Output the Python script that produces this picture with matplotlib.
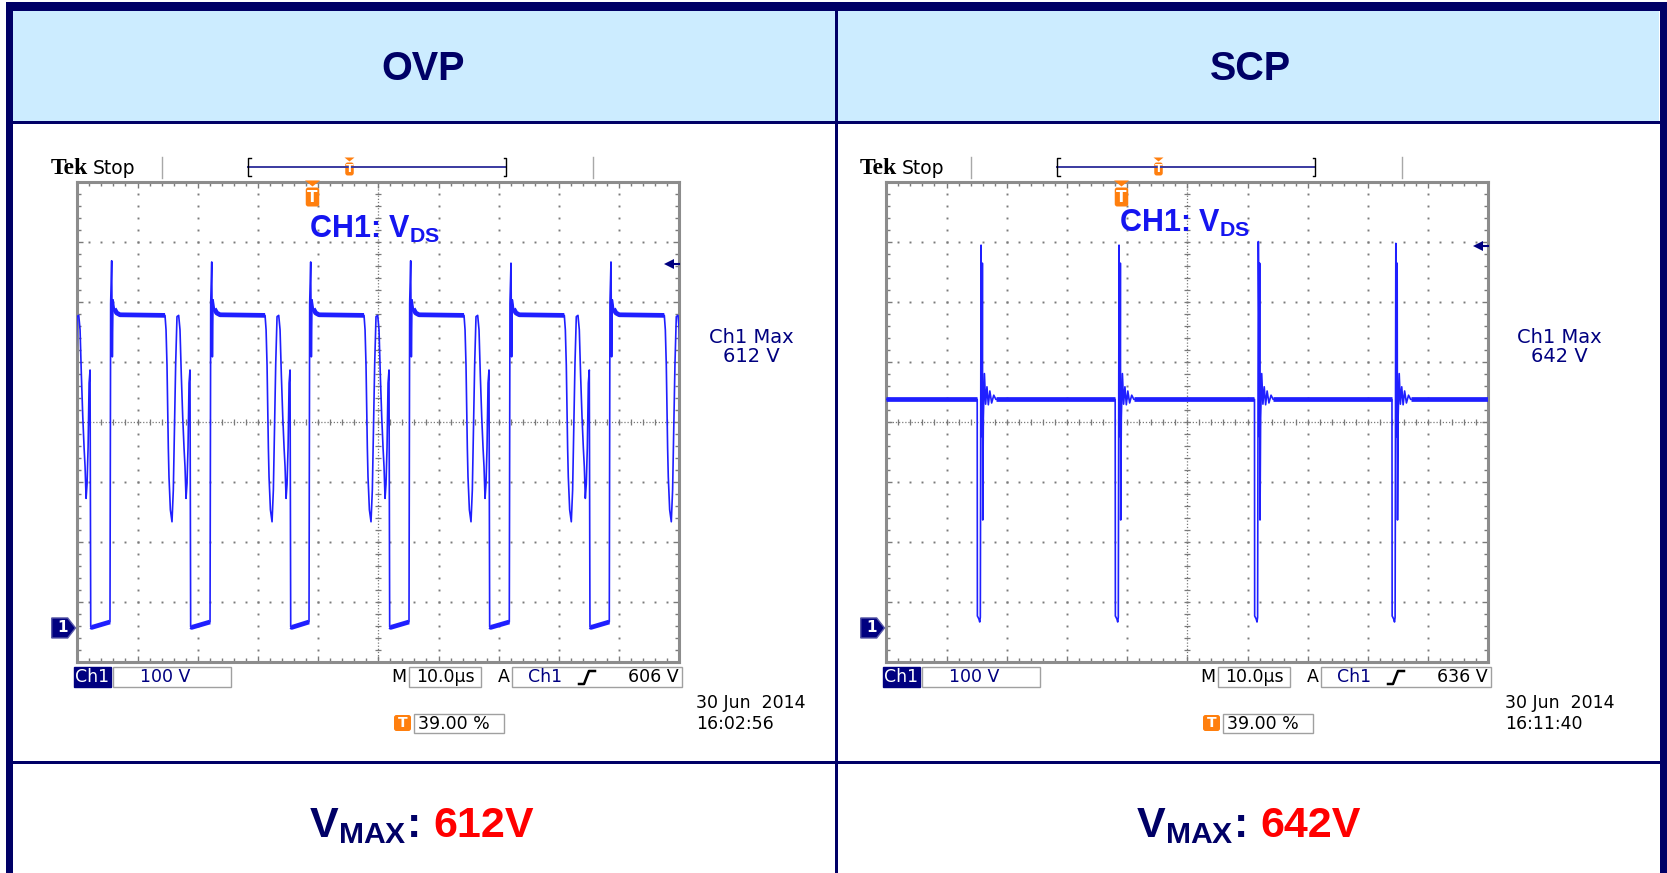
import numpy as np
import matplotlib.pyplot as plt
from matplotlib.patches import Rectangle, FancyBboxPatch, Polygon
from matplotlib.ticker import MultipleLocator, FixedLocator

plt.rcParams['mathtext.fontset'] = 'custom'
plt.rcParams['mathtext.rm'] = 'Liberation Sans'
plt.rcParams['mathtext.bf'] = 'Liberation Sans:bold'
plt.rcParams['mathtext.it'] = 'Liberation Sans:italic'

W, H = 1667, 873
DX = 809  # horizontal shift between the two scope shots (px)

# ---- data ----
titles = ['OVP', 'SCP']
vmax_vals = ['612V', '642V']
max_vals = ['612 V', '642 V']
trig_level = [606, 636]          # V, trigger level arrows
trig_text = ['606 V', '636 V']
date_line = ['30 Jun  2014', '30 Jun  2014']
time_line = ['16:02:56', '16:11:40']
volts_div = '100 V'
time_div = '10.0\u00b5s'
trig_pos = '39.00 %'

# OVP: one switching cycle, time relative to the turn-off spike (us) / volts
ovp_cycle_dt = [-0.28, -0.17, 0.0, 0.11, 0.22, 0.44, 0.83, 1.38, 8.86, 9.03,
                9.19, 9.41, 9.52, 9.75, 10.02, 10.24, 10.46, 10.63, 10.85, 11.13,
                11.35, 11.57, 11.80, 12.02, 12.18, 12.35, 12.51, 12.68, 12.85, 13.01,
                13.12, 13.30]
ovp_cycle_v = [10, 541, 612, 452, 547, 532, 525, 522, 521, 497,
               438, 300, 252, 197, 177, 230, 352, 440, 519, 521,
               497, 420, 352, 300, 269, 216, 240, 300, 408, 430,
               2, 1]
ovp_cycle_flat = [1, 0, 0, 0, 0, 1, 1, 1, 1, 0,
                  0, 0, 0, 0, 0, 0, 0, 0, 0, 0,
                  0, 0, 0, 0, 0, 0, 0, 0, 0, 0,
                  1, 1]
ovp_spike_t = [-10.89, 5.71, 22.33, 38.77, 55.38, 72.04, 88.65]
ovp_spike_v = [612, 612, 610, 610, 612, 608, 610]

# SCP: flat bus level with short hiccup pulses
scp_base_v = 381
scp_pulse_dt = [0.0, 0.03, 0.28, 0.42, 0.52, 0.64, 0.74, 0.80, 0.86, 0.92,
                1.02, 1.20, 1.40, 1.62, 1.85, 2.10, 2.40, 2.75, 3.10]
scp_pulse_v = [381, 20, 15, 10, 18, 638, 500, 319, 608, 180,
               350, 424, 373, 402, 372, 395, 375, 388, 381]
scp_pulse_flat = [1, 0, 0, 0, 0, 0, 0, 0, 0, 0,
                  0, 0, 0, 0, 0, 0, 0, 0, 1]
scp_fall_t = [15.10, 38.02, 61.16, 84.00]
scp_peak_v = [638, 638, 644, 641]

NAVY = '#000066'
SCOPE_NAVY = '#000080'
TRACE = '#1f1fff'
GRID = '#7a7a7a'
ORANGE = '#ff7f0e'


def build(starts, peaks, dt, v, flat, peak_idx):
    t_all, v_all, f_all = [], [], []
    for t0, pk in zip(starts, peaks):
        vv = list(v)
        vv[peak_idx] = pk
        t_all += [t0 + d for d in dt]
        v_all += vv
        f_all += list(flat)
    return np.array(t_all), np.array(v_all, float), np.array(f_all, bool)


ovp_t, ovp_v, ovp_f = build(ovp_spike_t, ovp_spike_v, ovp_cycle_dt,
                            ovp_cycle_v, ovp_cycle_flat, 2)
scp_t, scp_v, scp_f = build(scp_fall_t, scp_peak_v, scp_pulse_dt,
                            scp_pulse_v, scp_pulse_flat, 5)
scp_t = np.concatenate([[0], scp_t, [100]])
scp_v = np.concatenate([[scp_base_v], scp_v, [scp_base_v]])
scp_f = np.concatenate([[True], scp_f, [True]])

fig = plt.figure(figsize=(W / 100, H / 100), dpi=100)
bg = fig.add_axes([0, 0, 1, 1])
bg.set_xlim(0, W)
bg.set_ylim(H, 0)
bg.axis('off')

# --- table frame ---
bg.add_patch(Rectangle((8, 10), W - 16, 111, fc='#ccecff', ec='none'))
bg.add_patch(Rectangle((6, 2), W - 6, 8.5, fc=NAVY, ec='none'))
bg.add_patch(Rectangle((6, 2), 7, H, fc=NAVY, ec='none'))
bg.add_patch(Rectangle((1660, 2), 7, H, fc=NAVY, ec='none'))
bg.add_patch(Rectangle((6, 120.5), W - 6, 3, fc=NAVY, ec='none'))
bg.add_patch(Rectangle((6, 760.5), W - 6, 3, fc=NAVY, ec='none'))
bg.add_patch(Rectangle((835, 2), 3, H, fc=NAVY, ec='none'))

col_cx = [423, 1250]
for i in range(2):
    bg.text(col_cx[i], 80, titles[i], family='Liberation Sans', weight='bold',
            fontsize=28.5, color=NAVY, ha='center', va='baseline')
    split = [418, 1245][i]
    bg.text(split, 837, r'V$_{\mathbf{MAX}}$:', family='Liberation Sans',
            weight='bold', fontsize=31, color=NAVY, ha='right', va='baseline')
    bg.text(split + 15, 837, vmax_vals[i], family='Liberation Sans',
            weight='bold', fontsize=31, color='#ff0000', ha='left', va='baseline')


def t_marker(ax, x, y0, tri_w, tri_h, bw, bh, fs):
    ax.add_patch(Polygon([(x - tri_w / 2, y0), (x + tri_w / 2, y0), (x, y0 + tri_h)],
                         closed=True, fc=ORANGE, ec='none'))
    ax.add_patch(FancyBboxPatch((x - bw / 2, y0 + tri_h + 1), bw, bh,
                                boxstyle='round,pad=0,rounding_size=2.5',
                                fc=ORANGE, ec='none'))
    ax.text(x, y0 + tri_h + 1 + bh / 2, 'T', color='white', weight='bold',
            fontsize=fs, ha='center', va='center', family='DejaVu Sans')


def box(x, y, w, h, fc='white', ec='#a0a0a0'):
    bg.add_patch(Rectangle((x, y), w, h, fc=fc, ec=ec, lw=1))


for i in range(2):
    dx = i * DX
    # top status line
    bg.text(51 + dx, 174, 'Tek', family='Liberation Serif', weight='bold',
            fontsize=17, color='black', va='baseline')
    bg.text(93 + dx, 174, 'Stop', family='DejaVu Sans', fontsize=13.5,
            color='black', va='baseline')
    for x in (161.7, 593):
        bg.plot([x + dx, x + dx], [157, 178], color='#a8a8a8', lw=1)
    bg.plot([248 + dx, 506 + dx], [167.3, 167.3], color='#3a3aa0', lw=1.4)
    bg.plot([250.5 + dx, 248 + dx, 248 + dx, 250.5 + dx], [158, 158, 176, 176],
            color='black', lw=1)
    bg.plot([503.5 + dx, 506 + dx, 506 + dx, 503.5 + dx], [158, 158, 176, 176],
            color='black', lw=1)
    t_marker(bg, 349.5 + dx, 157.5, 10, 4, 8.5, 13, 8)

    # bottom readouts
    box(74 + dx, 667, 36.5, 20, fc=SCOPE_NAVY, ec=SCOPE_NAVY)
    bg.text(92.2 + dx, 677.5, 'Ch1', color='white', fontsize=12.5,
            ha='center', va='center', family='DejaVu Sans')
    box(113 + dx, 667, 118, 20)
    bg.text(140 + dx, 677.5, volts_div, color=SCOPE_NAVY, fontsize=12.5,
            ha='left', va='center', family='DejaVu Sans')
    bg.text(399 + dx, 677.5, 'M', color='black', fontsize=12.5,
            ha='center', va='center', family='DejaVu Sans')
    box(409 + dx, 667, 72, 20)
    bg.text(445 + dx, 677.5, time_div, color='black', fontsize=12.5,
            ha='center', va='center', family='DejaVu Sans')
    bg.text(503.7 + dx, 677.5, 'A', color='black', fontsize=12.5,
            ha='center', va='center', family='DejaVu Sans')
    box(512 + dx, 667, 170, 20)
    bg.text(528 + dx, 677.5, 'Ch1', color=SCOPE_NAVY, fontsize=12.5,
            ha='left', va='center', family='DejaVu Sans')
    bg.plot(np.array([579, 584, 589, 595]) + dx, [684, 684, 671, 671],
            color='black', lw=1.8)
    bg.text(679 + dx, 677.5, trig_text[i], color='black', fontsize=12.5,
            ha='right', va='center', family='DejaVu Sans')
    bg.add_patch(FancyBboxPatch((394 + dx, 715), 17, 16,
                                boxstyle='round,pad=0,rounding_size=2.5',
                                fc=ORANGE, ec='none'))
    bg.text(402.5 + dx, 723, 'T', color='white', weight='bold', fontsize=10,
            ha='center', va='center', family='DejaVu Sans')
    box(414 + dx, 714, 90, 19)
    bg.text(418 + dx, 724, trig_pos, color='black', fontsize=12.5,
            ha='left', va='center', family='DejaVu Sans')
    bg.text(696 + dx, 703, date_line[i], color='black', fontsize=12.5,
            ha='left', va='center', family='DejaVu Sans')
    bg.text(696 + dx, 724, time_line[i], color='black', fontsize=12.5,
            ha='left', va='center', family='DejaVu Sans')

    # measurement readout
    cx = 751.7 + i * 808
    bg.text(cx, 343, 'Ch1 Max', color=SCOPE_NAVY, fontsize=14,
            ha='center', va='baseline', family='DejaVu Sans')
    bg.text(cx, 362, max_vals[i], color=SCOPE_NAVY, fontsize=14,
            ha='center', va='baseline', family='DejaVu Sans')


def scope_axes(x0, y0, x1, y1):
    return fig.add_axes([x0 / W, 1 - y1 / H, (x1 - x0) / W, (y1 - y0) / H])


y_bot, y_top = -56.2, 743.8
ymaj = np.arange(y_bot + 100, y_top - 1, 100)
ymin = np.arange(y_bot + 20, y_top - 1, 20)
xmaj = np.arange(10, 100, 10)
xmin = np.arange(2, 100, 2)

traces = [(ovp_t, ovp_v, ovp_f), (scp_t, scp_v, scp_f)]
ch1_pos = [(309, 238), (1119, 232)]

for i in range(2):
    ax = scope_axes(77.3 + i * DX, 181.7, 679.3 + i * DX, 661.7)
    ax.set_xlim(0, 100)
    ax.set_ylim(y_bot, y_top)
    ax.set_facecolor('white')
    for s in ax.spines.values():
        s.set_color('#8c8c8c')
        s.set_linewidth(2.2)
    ax.xaxis.set_major_locator(MultipleLocator(10))
    ax.xaxis.set_minor_locator(MultipleLocator(2))
    ax.yaxis.set_major_locator(FixedLocator(ymaj))
    ax.yaxis.set_minor_locator(FixedLocator(ymin))
    ax.tick_params(which='both', direction='in', top=True, right=True,
                   labelbottom=False, labelleft=False, color=GRID, width=1)
    ax.tick_params(which='major', length=4)
    ax.tick_params(which='minor', length=3)

    # dotted graticule
    for x in xmaj:
        if x == 50:
            continue
        ax.plot(np.full_like(ymin, x), ymin, ls='none', marker='s', ms=1.4,
                color=GRID, mew=0)
    for y in ymaj:
        if abs(y - 343.8) < 1:
            continue
        ax.plot(xmin, np.full_like(xmin, y, dtype=float), ls='none', marker='s',
                ms=1.4, color=GRID, mew=0)
    ax.axhline(343.8, ls=(0, (1, 1.5)), color=GRID, lw=0.9)
    ax.axvline(50, ls=(0, (1, 1.5)), color=GRID, lw=0.9)
    ax.plot(xmin, np.full_like(xmin, 343.8, dtype=float), ls='none', marker='|',
            ms=5, mew=0.9, color=GRID)
    ax.plot(np.full_like(ymin, 50), ymin, ls='none', marker='_', ms=5,
            mew=0.9, color=GRID)

    # waveform
    t, v, f = traces[i]
    ax.plot(t, v, color=TRACE, lw=1.2, zorder=5)
    ax.plot(t, np.where(f, v, np.nan), color=TRACE, lw=3.4, zorder=5,
            solid_capstyle='butt')

    # trigger level arrow and ground marker
    ax.plot([98.3, 99.9], [trig_level[i]] * 2, color=SCOPE_NAVY, lw=1.5,
            clip_on=False, zorder=6)
    ax.plot([98.3], [trig_level[i]], marker='<', ms=7, color=SCOPE_NAVY,
            mew=0, clip_on=False, zorder=6)
    ax.add_patch(Polygon([(-4.25, 16.7), (-1.6, 16.7), (-0.3, 0), (-1.6, -16.7),
                          (-4.25, -16.7)], closed=True, fc=SCOPE_NAVY,
                         ec='#5a5aa8', lw=1, clip_on=False, zorder=6))
    ax.text(-2.5, 0, '1', color='white', weight='bold', fontsize=11,
            ha='center', va='center', family='DejaVu Sans', clip_on=False,
            zorder=7)

# overlay for marks that sit on top of the graticules
ov = fig.add_axes([0, 0, 1, 1])
ov.set_xlim(0, W)
ov.set_ylim(H, 0)
ov.axis('off')
ov.patch.set_alpha(0)
for i in range(2):
    t_marker(ov, 312.5 + i * DX, 180.5, 15, 6, 13.5, 19, 11)
    x, y = ch1_pos[i]
    ov.text(x, y, r'CH1: V$_{\mathbf{DS}}$', family='Liberation Sans',
            weight='bold', fontsize=22, color='#1515f0', ha='left',
            va='baseline')

fig.savefig('out.png', dpi=100)
